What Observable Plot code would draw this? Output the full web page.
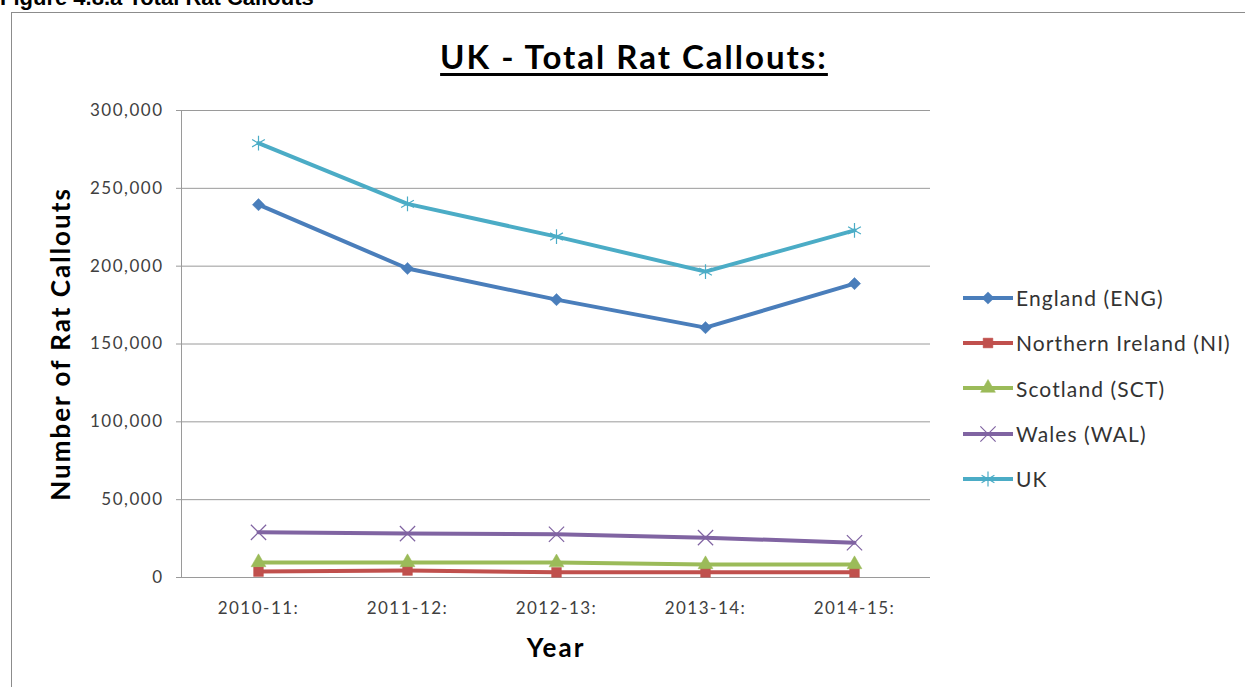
<!DOCTYPE html>
<html><head><meta charset="utf-8">
<script src="https://cdn.jsdelivr.net/npm/d3@7"></script>
<script src="https://cdn.jsdelivr.net/npm/@observablehq/plot@0.6"></script>
<style>
body{margin:0;background:#fff;font-family:Lato,"Open Sans",sans-serif;}
#wrap{position:relative;width:1245px;height:687px;overflow:hidden;}
#cap{position:absolute;left:0;top:-13px;font:bold 22px/22px "Liberation Sans",Arial,sans-serif;color:#000;white-space:nowrap;}
#box{position:absolute;left:11px;top:12px;width:1260px;height:700px;border:1px solid #8c8c8c;box-sizing:border-box;}
#title{position:absolute;left:0;width:1268px;top:36px;text-align:center;font:bold 33px Lato,sans-serif;letter-spacing:2px;text-decoration:underline;text-decoration-thickness:3px;text-underline-offset:4px;color:#000;}
#legend{position:absolute;left:963px;top:275px;}
.li{display:flex;align-items:center;height:45.3px;font:21px Lato,sans-serif;letter-spacing:1.1px;color:#333;}
.li svg{margin-right:3px;}
#chart{position:absolute;left:0;top:0;}
</style></head>
<body><div id="wrap">
<div id="cap">Figure 4.8.a Total Rat Callouts</div>
<div id="box"></div>
<div id="title">UK - Total Rat Callouts:</div>
<div id="chart"></div>
<div id="legend"></div>
</div>
<script>
const years = ["2010-11:", "2011-12:", "2012-13:", "2013-14:", "2014-15:"];
const seriesNames = ["England (ENG)", "Northern Ireland (NI)", "Scotland (SCT)", "Wales (WAL)", "UK"];
const england = [239500, 198500, 178500, 160500, 188800];
const northernIreland = [3800, 4500, 3300, 3300, 3300];
const scotland = [9700, 9700, 9600, 8400, 8400];
const wales = [29000, 28200, 27800, 25600, 22300];
const uk = [279000, 240000, 219000, 196500, 223000];
const seriesValues = [england, northernIreland, scotland, wales, uk];
const colors = ["#4a7ebb", "#c0504d", "#9bbb59", "#8064a2", "#4bacc6"];
const symbols = ["diamond2", "square", "triangle", "times", "asterisk"];
const yTicks = [0, 50000, 100000, 150000, 200000, 250000, 300000];

const data = [];
seriesNames.forEach((s, i) => years.forEach((y, j) => data.push({series: s, year: y, value: seriesValues[i][j]})));

const marks = [
  Plot.gridY(yTicks, {stroke: "#9a9a9a", strokeOpacity: 1, strokeWidth: 1}),
  Plot.frame({anchor: "left", stroke: "#9a9a9a"}),
  Plot.axisY(yTicks, {tickSize: 5, tickPadding: 13, stroke: "#9a9a9a", fill: "#404040", fontSize: 17, style: "letter-spacing:1.5px", tickFormat: d3.format(","), label: null}),
  Plot.axisX({tickSize: 0, tickPadding: 24, fill: "#404040", fontSize: 17, label: null}),
  Plot.text(["Number of Rat Callouts"], {frameAnchor: "left", textAnchor: "middle", rotate: -90, dx: -120, fontSize: 26, fontWeight: "bold", fill: "#000"}),
  Plot.text(["Year"], {frameAnchor: "bottom", dy: 79, fontSize: 26, fontWeight: "bold", fill: "#000"})
];
seriesNames.forEach((s, i) => {
  const d = data.filter(r => r.series === s);
  marks.push(Plot.line(d, {x: "year", y: "value", stroke: colors[i], strokeWidth: 4}));
  const sym = symbols[i];
  const filled = sym === "diamond2" || sym === "square" || sym === "triangle";
  marks.push(Plot.dot(d, {x: "year", y: "value", symbol: () => sym, r: filled ? 5.5 : 7,
    fill: filled ? colors[i] : "none", stroke: colors[i], strokeWidth: filled ? 0.5 : 1.2}));
});

const chart = Plot.plot({
  width: 1245, height: 687,
  marginLeft: 181, marginRight: 315, marginTop: 110, marginBottom: 110,
  style: {fontFamily: "Lato, sans-serif", background: "transparent", overflow: "visible"},
  x: {type: "point", domain: years, padding: 0.5},
  y: {domain: [0, 300000]},
  symbol: {type: "identity"},
  marks
});
chart.querySelectorAll("text").forEach(t => t.style.letterSpacing = t.textContent.length > 12 || t.textContent === "Year" ? "2px" : "1.5px");
document.getElementById("chart").appendChild(chart);

const leg = d3.select("#legend");
seriesNames.forEach((s, i) => {
  const row = leg.append("div").attr("class", "li");
  const sv = row.append("svg").attr("width", 50).attr("height", 20);
  sv.append("line").attr("x1", 0).attr("x2", 50).attr("y1", 10).attr("y2", 10).attr("stroke", colors[i]).attr("stroke-width", 4);
  const sym = symbols[i];
  const filled = sym === "diamond2" || sym === "square" || sym === "triangle";
  const map = {diamond2: d3.symbolDiamond2, square: d3.symbolSquare, triangle: d3.symbolTriangle, times: d3.symbolTimes, asterisk: d3.symbolAsterisk};
  const r = filled ? 5.5 : 7;
  sv.append("path").attr("transform", "translate(25,10)")
    .attr("d", d3.symbol(map[sym], Math.PI * r * r)())
    .attr("fill", filled ? colors[i] : "none").attr("stroke", colors[i]).attr("stroke-width", filled ? 0.5 : 1.2);
  row.append("span").text(s);
});
</script>
</body></html>
